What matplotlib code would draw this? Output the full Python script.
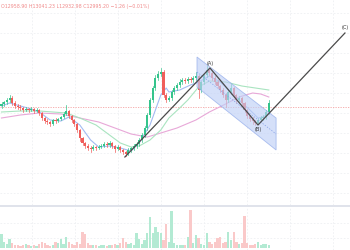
import numpy as np
import matplotlib
matplotlib.use("Agg")
import matplotlib.pyplot as plt
from matplotlib.patches import Polygon, Rectangle
from matplotlib.lines import Line2D

# ---------------- data (price units) ----------------
opens = [99,101,103,105,107,102,99,98,97,95, 96,95,96,94,95,92,87,84,83,81,
         85,84,86,88,91,94,89,85,81,75, 67,62,59,57,56,58,57,58,59,61,
         60,62,59,56,58,55,53,51,55,57, 59,61,65,70,77,90,105,117,127,131,
         133,110,105,107,113,117,120,123,125,124, 126,125,127,129,115,123,130,135,132,127,
         123,119,115,110,105,113,117,110,105,107, 102,95,89,86,84,82,85,87,88,93]
closes = [101,103,105,107,102,99,98,97,95,96, 95,96,94,95,92,87,84,83,81,85,
          84,86,88,91,94,89,85,81,75,67, 62,59,57,56,58,57,58,59,61,60,
          62,59,56,58,55,53,51,55,57,59, 61,65,70,77,90,105,117,127,131,133,
          110,105,107,113,117,120,123,125,124,126, 125,127,129,115,123,130,135,132,127,123,
          119,115,110,105,113,117,110,105,107,102, 95,89,86,84,82,85,87,88,93,102]
highs = [103,104,107,110,109,104,101,100,98,98, 97,98,97,97,96,93,88,86,84,86,
         87,87,89,93,100,95,90,86,82,76, 68,63,61,59,60,59,60,61,63,63,
         64,63,60,60,59,56,54,57,58,61, 63,67,72,79,92,107,119,130,134,137,
         135,112,109,115,119,122,126,127,127,128, 128,129,133,130,124,132,139,137,133,129,
         125,120,117,112,115,121,118,111,109,108, 103,96,90,88,85,87,89,90,95,105]
lows = [97,99,101,103,100,97,96,95,93,94, 93,94,92,93,90,85,82,81,79,80,
        82,83,85,87,90,87,83,79,73,64, 60,57,55,53,55,55,56,57,58,58,
        58,57,53,55,53,51,49,50,53,55, 57,59,63,68,75,88,103,115,125,129,
        108,103,104,105,111,115,118,121,122,122, 123,123,125,107,113,121,128,130,125,121,
        117,113,108,98,103,111,108,102,103,100, 93,87,84,81,80,81,84,85,86,91]
volumes = [14,6,4,9,5,3,3,2,3,4, 3,2,3,2,4,6,5,3,2,3,
           6,5,9,4,11,6,4,3,6,4, 16,14,5,3,3,3,2,3,3,2,
           3,3,4,3,5,10,6,4,5,3, 15,9,4,8,15,31,15,21,16,15,
           8,24,6,37,5,3,3,3,3,11, 38,5,13,10,4,3,15,6,4,6,
           10,11,5,6,16,8,16,6,4,5, 32,5,3,3,4,6,3,4,4,3]

# moving averages sampled at candle indices
ma_long_x = [0,7,14,22,29,36,42,48,54,59,65,72,77,83,88,93,96,99]
ma_long_y = [87,90,92,91,87,83,77,71,68,72,77,85,93,101,108,112,111,108]
ma_mid_x = [0,7,14,24,29,35,40,44,48,51,55,59,62,66,69,73,77,83,89,99]
ma_mid_y = [93,94,94,92,87,80,70,62,58,59,65,75,87,97,105,118,124,123,119,115]
ma_fast_x = [0,3,7,11,14,18,22,25,29,33,36,40,44,48,51,55,57,59,61,62,66,70,73,77,81,85,88,92,95,97,99]
ma_fast_y = [99,102,99,96,93,85,84,88,80,65,58,59,57,54,62,80,95,110,117,113,115,120,123,129,123,113,105,95,87,88,92]

last_price = 98

# ABC wave points (candle index, price)
wave_x = [45.7, 77.2, 95.0, 127.2]
wave_y = [48, 137, 80, 172]
wave_labels = ["", "(A)", "(B)", "(C)"]

# descending channel corners
chan_x = [72.4, 101.7, 101.7, 72.4]
chan_y = [148, 87, 55, 118]

header = "O12958.90 H13041.23 L12932.98 C12995.20 \u22121.26 (\u22120.01%)"

# ---------------- figure ----------------
W, H = 350, 250
fig = plt.figure(figsize=(W / 100, H / 100), dpi=100)
fig.patch.set_facecolor("white")

XL = (-0.556, 129.07)
ax = fig.add_axes([0, 45 / H, 1, 205 / H])
axv = fig.add_axes([0, 0, 1, 43 / H])

up_c = "#35c48c"
dn_c = "#f05e5b"

for a in (ax, axv):
    a.set_xlim(*XL)
    for s in a.spines.values():
        s.set_visible(False)
    a.tick_params(length=0, labelbottom=False, labelleft=False)
    a.set_xticks(np.arange(11.3, 130, 15.93))
    a.grid(True, color="#eef0f3", lw=0.6, ls=(0, (2, 2)))
    a.set_axisbelow(True)

ax.set_ylim(0, 205)
ax.set_yticks(np.arange(12, 205, 20))
axv.set_ylim(-2, 41)
axv.set_yticks([10, 25])

x = np.arange(len(closes))
bw = 0.8
for i in range(len(closes)):
    o, c, h, l = opens[i], closes[i], highs[i], lows[i]
    col = up_c if c >= o else dn_c
    ax.plot([x[i], x[i]], [l, h], color=col, lw=0.5, zorder=3)
    ax.add_patch(Rectangle((x[i] - bw / 2, min(o, c)), bw, max(abs(c - o), 0.8),
                           facecolor=col, edgecolor="none", zorder=4))
    axv.bar(x[i], volumes[i], width=0.85, color=("#b3ead3" if c >= o else "#fac9c9"),
            edgecolor="none", zorder=2)

# moving averages
ax.plot(ma_long_x, ma_long_y, color="#e8a8d8", lw=0.8, zorder=2)
ax.plot(ma_mid_x, ma_mid_y, color="#a9e4c0", lw=0.8, zorder=2)
ax.plot(ma_fast_x, ma_fast_y, color="#a3bbf2", lw=0.8, zorder=2)

# last price dotted line
ax.axhline(last_price, color="#f5a3a3", lw=0.6, ls=(0, (1.5, 1.5)), zorder=1)

# channel
ax.add_patch(Polygon(list(zip(chan_x, chan_y)), closed=True, facecolor="#bfd0f6",
                     edgecolor="#86a2e8", lw=0.6, alpha=0.65, zorder=5))
ax.plot([chan_x[0], chan_x[1]], [(chan_y[0] + chan_y[3]) / 2, (chan_y[1] + chan_y[2]) / 2],
        color="#86a2e8", lw=0.5, ls=(0, (2, 2)), zorder=6)

# ABC wave line
ax.plot(wave_x, wave_y, color="#4a4a4a", lw=0.9, zorder=7)
for wx, wy, lab in zip(wave_x, wave_y, wave_labels):
    if lab:
        dy = -5 if lab == "(B)" else 5
        ax.text(wx, wy + dy, lab, fontsize=3.6, color="#333333", ha="center", va="center", zorder=8)

# header text
fig.text(0.003, 0.985, header, fontsize=3.4, color="#f08a8a", ha="left", va="top")

# separator between panes
fig.add_artist(Line2D([0, 1], [1 - 205.5 / H, 1 - 205.5 / H], color="#e0e3eb", lw=1.4,
                      transform=fig.transFigure))

fig.savefig("out.png", dpi=100, facecolor="white")
